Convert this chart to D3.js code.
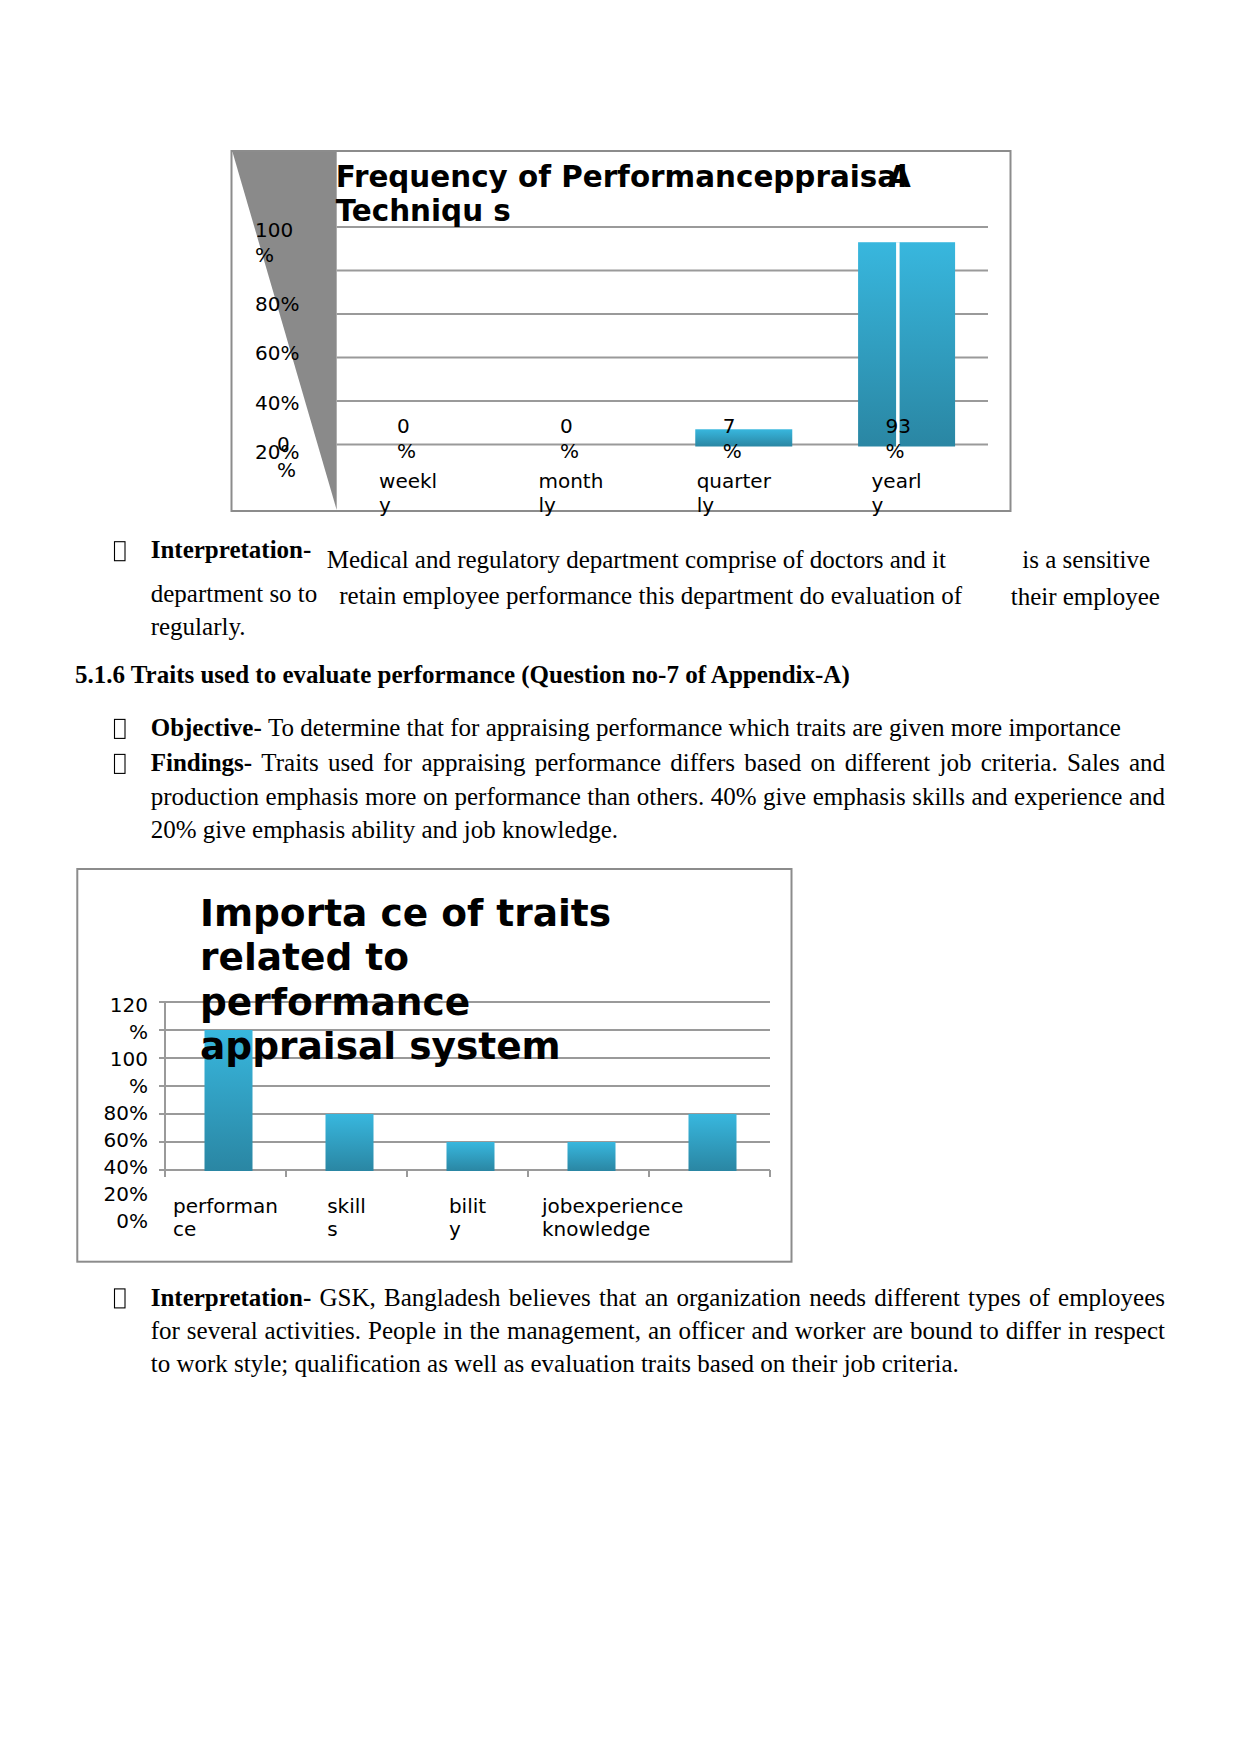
<!DOCTYPE html>
<html><head><meta charset="utf-8">
<script src="https://cdn.jsdelivr.net/npm/d3@7"></script>
<style>html,body{margin:0;padding:0;background:#fff;} svg{display:block;}</style>
</head><body>
<svg id="page" width="1241" height="1754"></svg>
<script>
// ---------- Chart 1 data ----------
const freqCategories = ["weekly", "monthly", "quarterly", "yearly"];
const freqValues = [0, 0, 7, 93];
const freqCategoryLabels = [["weekl", "y"], ["month", "ly"], ["quarter", "ly"], ["yearl", "y"]];
const freqValueLabels = [["0", "%"], ["0", "%"], ["7", "%"], ["93", "%"]];
const freqTicks = [0, 20, 40, 60, 80, 100];
const freqTickLabels = [["0", "%"], ["20%"], ["40%"], ["60%"], ["80%"], ["100", "%"]];
const freqTitleLines = ["Frequency of Performanceppraisal", "Techniqu s"];
const freqTitleOverlay = "A";

// ---------- Chart 2 data ----------
const traitCategories = ["performance", "skills", "ability", "job knowledge", "experience"];
const traitValues = [100, 40, 20, 20, 40];
const traitCategoryLabels = [["performan", "ce"], ["skill", "s"], ["bilit", "y"], ["jobexperience", "knowledge"]];
const traitTicks = [0, 20, 40, 60, 80, 100, 120];
const traitTickLabels = [["0%"], ["20%"], ["40%"], ["60%"], ["80%"], ["100", "%"], ["120", "%"]];
const traitTitleLines = ["Importa ce of traits", "related to", "performance", "appraisal system"];

// ---------- Body text ----------
const interp1Pieces = [
  ["Interpretation-", true, 0],
  ["Medical and regulatory department comprise of doctors and it", false, 1],
  ["is a sensitive", false, 2],
  ["department so to", false, 3],
  ["retain employee performance this department do evaluation of", false, 4],
  ["their employee", false, 5],
  ["regularly.", false, 6]
];
const headingText = "5.1.6 Traits used to evaluate performance (Question no-7 of Appendix-A)";
const objectiveLine = [["Objective-", true], [" To determine that for appraising performance which traits are given more importance", false]];
const findingsLines = [
  [["Findings-", true], ["Traits used for appraising performance differs based on different job criteria. Sales and", false]],
  [["production emphasis more on performance than others. 40% give emphasis skills and experience and", false]],
  [["20% give emphasis ability and job knowledge.", false]]
];
const interp2Lines = [
  [["Interpretation-", true], ["GSK, Bangladesh believes that an organization needs different types of employees", false]],
  [["for several activities. People in the management, an officer and worker are bound to differ in respect", false]],
  [["to work style; qualification as well as evaluation traits based on their job criteria.", false]]
];

const svg = d3.select("#page");
svg.append("rect").attr("width", 1241).attr("height", 1754).attr("fill", "#fff");
const defs = svg.append("defs");
const grad = defs.append("linearGradient").attr("id", "barGrad")
  .attr("x1", 0).attr("y1", 0).attr("x2", 0).attr("y2", 1);
grad.append("stop").attr("offset", "0%").attr("stop-color", "#38b7de");
grad.append("stop").attr("offset", "100%").attr("stop-color", "#2a86a3");

const SANS = "'DejaVu Sans', sans-serif";
const SERIF = "'Liberation Serif', 'Times New Roman', serif";
const GRID = "#9a9a9a";
const BORDER = "#8c8c8c";

// ================= CHART 1 =================
{
  const box = {l: 231.5, t: 151, r: 1010.5, b: 511};
  const plotL = 336.7, plotR = 988;
  const g = svg.append("g");
  g.append("rect").attr("x", box.l).attr("y", box.t).attr("width", box.r - box.l).attr("height", box.b - box.t)
    .attr("fill", "#fff").attr("stroke", BORDER).attr("stroke-width", 2);
  g.append("polygon")
    .attr("points", [[box.l + 1, box.t + 1], [plotL, box.t + 1], [plotL, box.b - 1]].map(p => p.join(",")).join(" "))
    .attr("fill", "#8a8a8a");

  const x = d3.scaleBand().domain(freqCategories).range([plotL, plotR]);
  const y = d3.scaleLinear().domain([0, 100]).range([444.5, 227]);
  const bw = x.bandwidth();

  g.selectAll(".grid").data(freqTicks).enter().append("line")
    .attr("x1", plotL).attr("x2", plotR).attr("y1", d => y(d)).attr("y2", d => y(d))
    .attr("stroke", GRID).attr("stroke-width", 2);

  const barW = 97;
  const bars = freqCategories.map((c, i) => ({c, v: freqValues[i]})).filter(d => d.v > 0);
  g.selectAll(".bar").data(bars).enter().append("rect")
    .attr("x", d => x(d.c) + (bw - barW) / 2).attr("width", barW)
    .attr("y", d => y(d.v)).attr("height", d => y(0) - y(d.v) + 2)
    .attr("fill", "url(#barGrad)");
  const maxBar = bars.reduce((a, b) => (b.v > a.v ? b : a));
  g.append("rect").attr("x", x(maxBar.c) + (bw - barW) / 2 + 38).attr("width", 3.5)
    .attr("y", y(maxBar.v)).attr("height", y(0) - y(maxBar.v) + 2).attr("fill", "#fff");

  // title
  const tt = g.append("text").attr("font-family", SANS).attr("font-weight", "bold").attr("font-size", 29.4).attr("fill", "#000");
  freqTitleLines.forEach((ln, i) => tt.append("tspan").attr("x", plotL - 1).attr("y", 186.8 + i * 34).text(ln));
  g.append("text").attr("font-family", SANS).attr("font-weight", "bold").attr("font-size", 29.4)
    .attr("x", 888).attr("y", 186.8).text(freqTitleOverlay);

  // y tick labels
  const lab = d3.scaleLinear().domain([20, 80]).range([459.4, 311]);
  const lh = 24.4;
  freqTicks.forEach((t, i) => {
    const lines = freqTickLabels[i];
    const zero = t === 0;
    const lastY = zero ? y(0) + 32.5 : lab(t);
    const tx = g.append("text").attr("font-family", SANS).attr("font-size", 20).attr("fill", "#000");
    lines.forEach((ln, k) => tx.append("tspan").attr("x", zero ? 277 : 255)
      .attr("y", lastY - (lines.length - 1 - k) * (zero ? 26 : lh)).text(ln));
  });

  // value labels
  freqCategories.forEach((c, i) => {
    const tx = g.append("text").attr("font-family", SANS).attr("font-size", 20).attr("fill", "#000");
    freqValueLabels[i].forEach((ln, k) => tx.append("tspan")
      .attr("x", x(c) + bw / 2 - 21).attr("y", y(0) - 11.2 + k * lh).text(ln));
  });

  // category labels
  freqCategories.forEach((c, i) => {
    const lines = freqCategoryLabels[i];
    const tx = g.append("text").attr("font-family", SANS).attr("font-size", 20).attr("fill", "#000");
    const first = tx.append("tspan").attr("y", 487.8).text(lines[0]);
    const w = first.node().getComputedTextLength();
    const sx = x(c) + bw / 2 - 10 - w / 2;
    first.attr("x", sx);
    tx.append("tspan").attr("x", sx).attr("y", 487.8 + lh).text(lines[1]);
  });
}

// ================= CHART 2 =================
{
  const box = {l: 77.3, t: 869, r: 791.5, b: 1261.7};
  const plotL = 165, plotR = 770;
  const g = svg.append("g");
  g.append("rect").attr("x", box.l).attr("y", box.t).attr("width", box.r - box.l).attr("height", box.b - box.t)
    .attr("fill", "#fff").attr("stroke", BORDER).attr("stroke-width", 2);

  const x = d3.scaleBand().domain(traitCategories).range([plotL, plotR]);
  const y = d3.scaleLinear().domain([0, 120]).range([1170, 1002]);
  const bw = x.bandwidth();

  g.selectAll(".grid").data(traitTicks).enter().append("line")
    .attr("x1", plotL - 6).attr("x2", plotR).attr("y1", d => y(d)).attr("y2", d => y(d))
    .attr("stroke", GRID).attr("stroke-width", 2);
  g.append("line").attr("x1", plotL).attr("x2", plotL).attr("y1", y(120)).attr("y2", y(0))
    .attr("stroke", GRID).attr("stroke-width", 2);
  const bounds = traitCategories.map(c => x(c)).concat([plotR]);
  g.selectAll(".xt").data(bounds).enter().append("line")
    .attr("x1", d => d).attr("x2", d => d).attr("y1", y(0)).attr("y2", y(0) + 7)
    .attr("stroke", GRID).attr("stroke-width", 2);

  const barW = 48;
  g.selectAll(".bar").data(traitCategories.map((c, i) => ({c, v: traitValues[i]}))).enter().append("rect")
    .attr("x", d => x(d.c) + bw / 2 - barW / 2 + 3).attr("width", barW)
    .attr("y", d => y(d.v)).attr("height", d => y(0) - y(d.v) + 1)
    .attr("fill", "url(#barGrad)");

  // y tick labels, stacked lines
  const lineY = d3.scaleLinear().domain([0, 8]).range([1228, 1011.5]);
  let k = 0;
  traitTicks.forEach((t, i) => {
    const lines = traitTickLabels[i];
    const tx = g.append("text").attr("font-family", SANS).attr("font-size", 20).attr("fill", "#000").attr("text-anchor", "end");
    const ys = lines.map((_, j) => lineY(k + (lines.length - 1 - j)));
    lines.forEach((ln, j) => tx.append("tspan").attr("x", 148).attr("y", ys[j]).text(ln));
    k += lines.length;
  });

  // category labels
  traitCategoryLabels.forEach((lines, i) => {
    const c = traitCategories[i];
    const tx = g.append("text").attr("font-family", SANS).attr("font-size", 20).attr("fill", "#000");
    const first = tx.append("tspan").attr("y", 1212.8).text(lines[0]);
    const w = first.node().getComputedTextLength();
    const cx = i === traitCategoryLabels.length - 1 ? x(c) + bw * 0.7 : x(c) + bw / 2;
    const sx = cx - w / 2;
    first.attr("x", sx);
    tx.append("tspan").attr("x", sx).attr("y", 1212.8 + 23.5).text(lines[1]);
  });

  // title on top of bars
  const tt = g.append("text").attr("font-family", SANS).attr("font-weight", "bold").attr("font-size", 37.5).attr("fill", "#000");
  traitTitleLines.forEach((ln, i) => tt.append("tspan").attr("x", 200).attr("y", 926 + i * 44.3).text(ln));
}

// ================= BODY TEXT =================
const body = svg.append("g").attr("font-family", SERIF).attr("font-size", 25).attr("fill", "#000");

function bullet(yBase) {
  body.append("rect").attr("x", 114.5).attr("y", yBase - 16.6).attr("width", 10.5).attr("height", 19)
    .attr("fill", "none").attr("stroke", "#000").attr("stroke-width", 1.1);
}

function textLine(x, yBase, segs, width) {
  const words = [];
  segs.forEach(([t, b]) => t.split(" ").filter(w => w).forEach(w => words.push({w, b})));
  const nodes = words.map(o => body.append("text").attr("y", yBase)
    .attr("font-weight", o.b ? "bold" : "normal").text(o.w));
  const widths = nodes.map(n => n.node().getComputedTextLength());
  const total = d3.sum(widths);
  const gap = width ? (width - total) / (words.length - 1) : 6.25;
  let cx = x;
  nodes.forEach((n, i) => { n.attr("x", cx); cx += widths[i] + gap; });
}

const interpPos = [[150.7, 558.3], [326.7, 568.3], [1022.3, 568.3], [150.7, 601.7], [339.3, 604.3], [1010.7, 605], [150.7, 635]];
bullet(558.3);
interp1Pieces.forEach(([t, b, i]) => {
  body.append("text").attr("x", interpPos[i][0]).attr("y", interpPos[i][1])
    .attr("font-weight", b ? "bold" : "normal").text(t);
});

body.append("text").attr("x", 75).attr("y", 683).attr("font-weight", "bold").text(headingText);

bullet(736);
textLine(150.7, 736, objectiveLine, null);

const fullW = 1165 - 150.7;
const findY = [771, 804.5, 837.5];
bullet(findY[0]);
findingsLines.forEach((segs, i) => textLine(150.7, findY[i], segs, i < findingsLines.length - 1 ? fullW : null));

const int2Y = [1305.5, 1338.5, 1371.5];
bullet(int2Y[0]);
interp2Lines.forEach((segs, i) => textLine(150.7, int2Y[i], segs, i < interp2Lines.length - 1 ? fullW : null));
</script>
</body></html>
